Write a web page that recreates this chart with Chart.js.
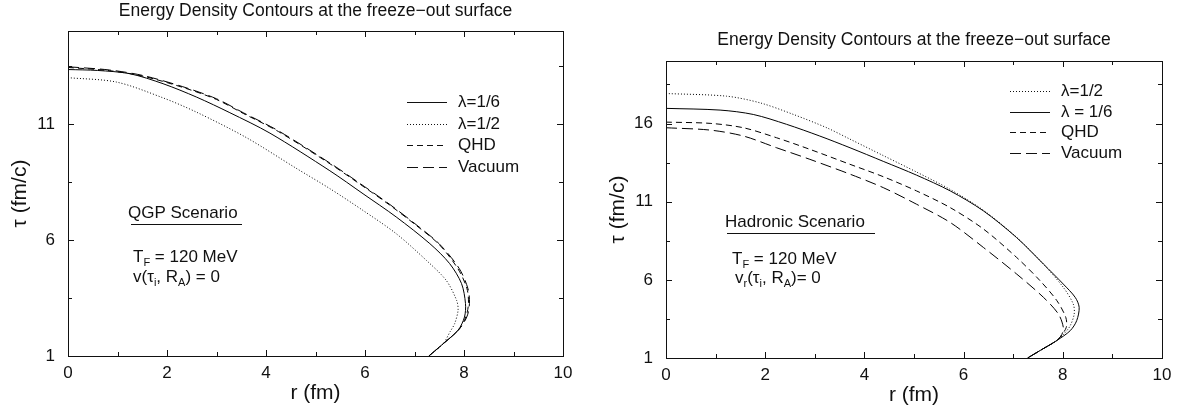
<!DOCTYPE html>
<html>
<head>
<meta charset="utf-8">
<script src="https://cdn.jsdelivr.net/npm/chart.js@4.4.0/dist/chart.umd.min.js"></script>
<style>
  body { margin: 0; background: #fff; }
  canvas { position: absolute; top: 0; }
</style>
</head>
<body>
<canvas id="qgpChart" width="600" height="411" style="left:0"></canvas>
<canvas id="hadChart" width="598" height="411" style="left:600px"></canvas>
<script>
// axis ticks
const rTicks = [0, 1, 2, 3, 4, 5, 6, 7, 8, 9, 10];
const rLabels = [0, 2, 4, 6, 8, 10];
const qgpTauTicks = [1, 3.5, 6, 8.5, 11, 13.5];
const qgpTauLabels = [1, 6, 11];
const hadTauTicks = [1, 3.5, 6, 8.5, 11, 13.5, 16, 18.5];
const hadTauLabels = [1, 6, 11, 16];

// QGP scenario (left panel), r in fm, tau in fm/c
const qgpL6R   = [0, 0.6, 1.25, 1.92, 2.6, 3.27, 4.08, 5.29, 5.96, 6.63, 7.31, 7.71, 7.95, 8.03, 8.01, 7.88, 7.58, 7.29];
const qgpL6Tau = [13.34, 13.3, 13.16, 12.73, 12.15, 11.48, 10.6, 8.98, 7.99, 6.99, 5.84, 4.98, 4.12, 3.26, 2.68, 2.11, 1.53, 1];
const qgpL2R   = [0, 0.98, 1.92, 2.6, 3.61, 4.6, 5.29, 5.96, 6.63, 7.24, 7.64, 7.85, 7.88, 7.81, 7.72, 7.58, 7.29];
const qgpL2Tau = [12.99, 12.8, 12.12, 11.5, 10.4, 9.1, 8.21, 7.27, 6.27, 5.12, 4.26, 3.4, 2.97, 2.39, 2.05, 1.53, 1];
const qgpQhdR   = [0, 0.84, 1.52, 2.32, 3.0, 3.54, 4.25, 5.35, 5.9, 6.5, 7.05, 7.5, 7.88, 8.06, 8.09, 8.04, 7.9, 7.58, 7.29];
const qgpQhdTau = [13.43, 13.29, 13.05, 12.57, 12.05, 11.45, 10.67, 9.2, 8.4, 7.5, 6.6, 5.8, 4.75, 3.9, 3.26, 2.7, 2.15, 1.53, 1];
const qgpVacR   = [0, 0.84, 1.52, 2.32, 3.0, 3.54, 4.25, 5.35, 5.9, 6.5, 7.05, 7.5, 7.9, 8.08, 8.11, 8.06, 7.9, 7.58, 7.29];
const qgpVacTau = [13.46, 13.32, 13.08, 12.6, 12.08, 11.48, 10.7, 9.23, 8.43, 7.53, 6.63, 5.83, 4.78, 3.9, 3.26, 2.7, 2.15, 1.53, 1];

// Hadronic scenario (right panel)
const hadL2R   = [0, 1.22, 1.9, 2.57, 3.24, 3.71, 4.38, 5.05, 5.73, 6.4, 7.07, 7.61, 8.01, 8.21, 8.23, 8.15, 8.04, 7.88, 7.58, 7.29];
const hadL2Tau = [17.92, 17.75, 17.32, 16.58, 15.73, 15.0, 13.95, 12.9, 11.78, 10.45, 8.72, 7.0, 5.52, 4.46, 3.82, 3.07, 2.6, 2.12, 1.55, 1];
const hadL6R   = [0, 1.09, 1.76, 2.43, 3.1, 3.71, 4.38, 5.05, 5.73, 6.4, 7.07, 7.61, 8.01, 8.25, 8.33, 8.28, 8.15, 7.88, 7.58, 7.29];
const hadL6Tau = [16.97, 16.86, 16.58, 15.95, 15.2, 14.45, 13.58, 12.7, 11.69, 10.41, 8.7, 7.01, 5.73, 4.88, 4.24, 3.39, 2.75, 2.12, 1.55, 1];
const hadQhdR   = [0, 0.89, 1.56, 2.23, 2.9, 3.71, 4.38, 5.05, 5.73, 6.4, 7.07, 7.54, 7.88, 8.06, 8.07, 7.96, 7.88, 7.58, 7.29];
const hadQhdTau = [16.09, 16.01, 15.73, 15.09, 14.35, 13.39, 12.6, 11.69, 10.62, 9.25, 7.43, 5.95, 4.67, 3.6, 2.96, 2.4, 2.12, 1.55, 1];
const hadVacR   = [0, 0.89, 1.56, 2.23, 2.9, 3.71, 4.38, 5.05, 5.73, 6.4, 7.07, 7.61, 7.91, 8.01, 7.98, 7.88, 7.58, 7.29];
const hadVacTau = [15.73, 15.58, 15.2, 14.45, 13.71, 12.76, 11.9, 10.84, 9.67, 8.07, 6.37, 4.88, 3.82, 2.97, 2.5, 2.12, 1.55, 1];

const FONT = '"Liberation Sans", Arial, Helvetica, sans-serif';
const INK = '#111';
Chart.defaults.font.family = FONT;
Chart.defaults.color = INK;

const SOLID = [], DOTTED = [1, 2], SHORT = [6, 4], LONG = [11, 5];

function curve(label, rs, taus, dash) {
  return {
    label: label,
    data: rs.map((r, i) => ({x: r, y: taus[i]})),
    showLine: true,
    borderColor: '#000',
    borderWidth: 1,
    borderDash: dash,
    pointRadius: 0,
    tension: 0.3,
    fill: false
  };
}

function richText(ctx, x, y, parts) {
  let cx = x;
  for (const [text, sub] of parts) {
    ctx.font = (sub ? 11 : 17) + 'px ' + FONT;
    ctx.fillText(text, cx, sub ? y + 6 : y);
    cx += ctx.measureText(text).width;
  }
}

const panelPlugin = {
  id: 'panel',
  afterDraw(chart, args, opts) {
    const {ctx, chartArea: a, scales: {x, y}} = chart;
    ctx.save();
    ctx.strokeStyle = INK;
    ctx.lineWidth = 1;
    ctx.strokeRect(a.left + 0.5, a.top + 0.5, a.right - a.left, a.bottom - a.top);

    // inward tick marks on all four sides
    ctx.beginPath();
    for (const v of rTicks) {
      const px = Math.round(x.getPixelForValue(v)) + 0.5;
      const len = rLabels.includes(v) ? 6 : 4;
      ctx.moveTo(px, a.bottom); ctx.lineTo(px, a.bottom - len);
      ctx.moveTo(px, a.top); ctx.lineTo(px, a.top + len);
    }
    for (const v of opts.tauTicks) {
      const py = Math.round(y.getPixelForValue(v)) + 0.5;
      const len = opts.tauLabels.includes(v) ? 6 : 4;
      ctx.moveTo(a.left, py); ctx.lineTo(a.left + len, py);
      ctx.moveTo(a.right, py); ctx.lineTo(a.right - len, py);
    }
    ctx.stroke();

    ctx.fillStyle = INK;
    ctx.textBaseline = 'middle';
    ctx.textAlign = 'center';
    ctx.font = '17.5px ' + FONT;
    ctx.fillText(opts.title, (a.left + a.right) / 2, opts.titleY);

    // legend
    ctx.textAlign = 'left';
    chart.data.datasets.forEach((ds, i) => {
      const ly = Math.round(opts.legendY + i * opts.legendGap);
      ctx.setLineDash(ds.borderDash);
      ctx.beginPath();
      ctx.moveTo(opts.legendX, ly + 0.5);
      ctx.lineTo(opts.legendX + 40, ly + 0.5);
      ctx.stroke();
      ctx.setLineDash([]);
      ctx.font = '17px ' + FONT;
      ctx.fillText(ds.label, opts.legendX + 51, ly);
    });

    // scenario note
    ctx.font = '17px ' + FONT;
    ctx.fillText(opts.scenario, opts.noteX, opts.noteY);
    ctx.beginPath();
    ctx.moveTo(opts.underline[0], opts.underline[2] + 0.5);
    ctx.lineTo(opts.underline[1], opts.underline[2] + 0.5);
    ctx.stroke();
    for (const line of opts.lines) richText(ctx, line.x, line.y, line.parts);
    ctx.restore();
  }
};

function makePanel(id, datasets, tauTicks, tauLabels, tauMax, geo, panelOpts) {
  panelOpts.tauTicks = tauTicks;
  panelOpts.tauLabels = tauLabels;
  return new Chart(document.getElementById(id), {
    type: 'scatter',
    data: {datasets: datasets},
    options: {
      responsive: false,
      animation: false,
      events: [],
      layout: {padding: {top: geo.top, right: geo.right, bottom: 0, left: 0}},
      plugins: {legend: {display: false}, tooltip: {enabled: false}, panel: panelOpts},
      scales: {
        x: {
          type: 'linear', min: 0, max: 10,
          grid: {display: false, drawTicks: false},
          border: {display: false},
          afterBuildTicks: s => { s.ticks = rTicks.map(v => ({value: v})); },
          afterFit: s => { s.height = geo.xh; },
          ticks: {autoSkip: false, maxRotation: 0, padding: 7, font: {size: 17},
                  callback: v => rLabels.includes(v) ? String(v) : ''},
          title: {display: true, text: 'r (fm)', font: {size: 21}, padding: {top: 0, bottom: geo.xtb}}
        },
        y: {
          type: 'linear', min: 1, max: tauMax,
          grid: {display: false, drawTicks: false},
          border: {display: false},
          afterBuildTicks: s => { s.ticks = tauTicks.map(v => ({value: v})); },
          afterFit: s => { s.width = geo.yw; },
          ticks: {autoSkip: false, padding: 13, font: {size: 17},
                  callback: v => tauLabels.includes(v) ? String(v) : ''},
          title: {display: true, text: 'τ (fm/c)', font: {size: 21}, padding: {top: geo.ytp, bottom: 0}}
        }
      }
    },
    plugins: [panelPlugin]
  });
}

makePanel('qgpChart', [
  curve('λ=1/6', qgpL6R, qgpL6Tau, SOLID),
  curve('λ=1/2', qgpL2R, qgpL2Tau, DOTTED),
  curve('QHD', qgpQhdR, qgpQhdTau, SHORT),
  curve('Vacuum', qgpVacR, qgpVacTau, LONG)
], qgpTauTicks, qgpTauLabels, 15,
  {top: 31, right: 37, xh: 55, yw: 68, xtb: 5, ytp: 8},
  {
    title: 'Energy Density Contours at the freeze\u2212out surface', titleY: 11,
    legendX: 407, legendY: 102, legendGap: 21.5,
    scenario: 'QGP Scenario', noteX: 128, noteY: 213, underline: [131, 242, 224],
    lines: [
      {x: 133, y: 257, parts: [['T', false], ['F', true], [' = 120 MeV', false]]},
      {x: 133, y: 277, parts: [['v(τ', false], ['i', true], [', R', false], ['A', true], [') = 0', false]]}
    ]
  });

makePanel('hadChart', [
  curve('λ=1/2', hadL2R, hadL2Tau, DOTTED),
  curve('λ = 1/6', hadL6R, hadL6Tau, SOLID),
  curve('QHD', hadQhdR, hadQhdTau, SHORT),
  curve('Vacuum', hadVacR, hadVacTau, LONG)
], hadTauTicks, hadTauLabels, 20,
  {top: 61, right: 36, xh: 53, yw: 66, xtb: 3, ytp: 6},
  {
    title: 'Energy Density Contours at the freeze\u2212out surface', titleY: 40,
    legendX: 410, legendY: 91, legendGap: 20.5,
    scenario: 'Hadronic Scenario', noteX: 125, noteY: 222, underline: [127, 275, 233],
    lines: [
      {x: 132, y: 259, parts: [['T', false], ['F', true], [' = 120 MeV', false]]},
      {x: 135, y: 278, parts: [['v', false], ['r', true], ['(τ', false], ['i', true], [', R', false], ['A', true], [')= 0', false]]}
    ]
  });
</script>
</body>
</html>
